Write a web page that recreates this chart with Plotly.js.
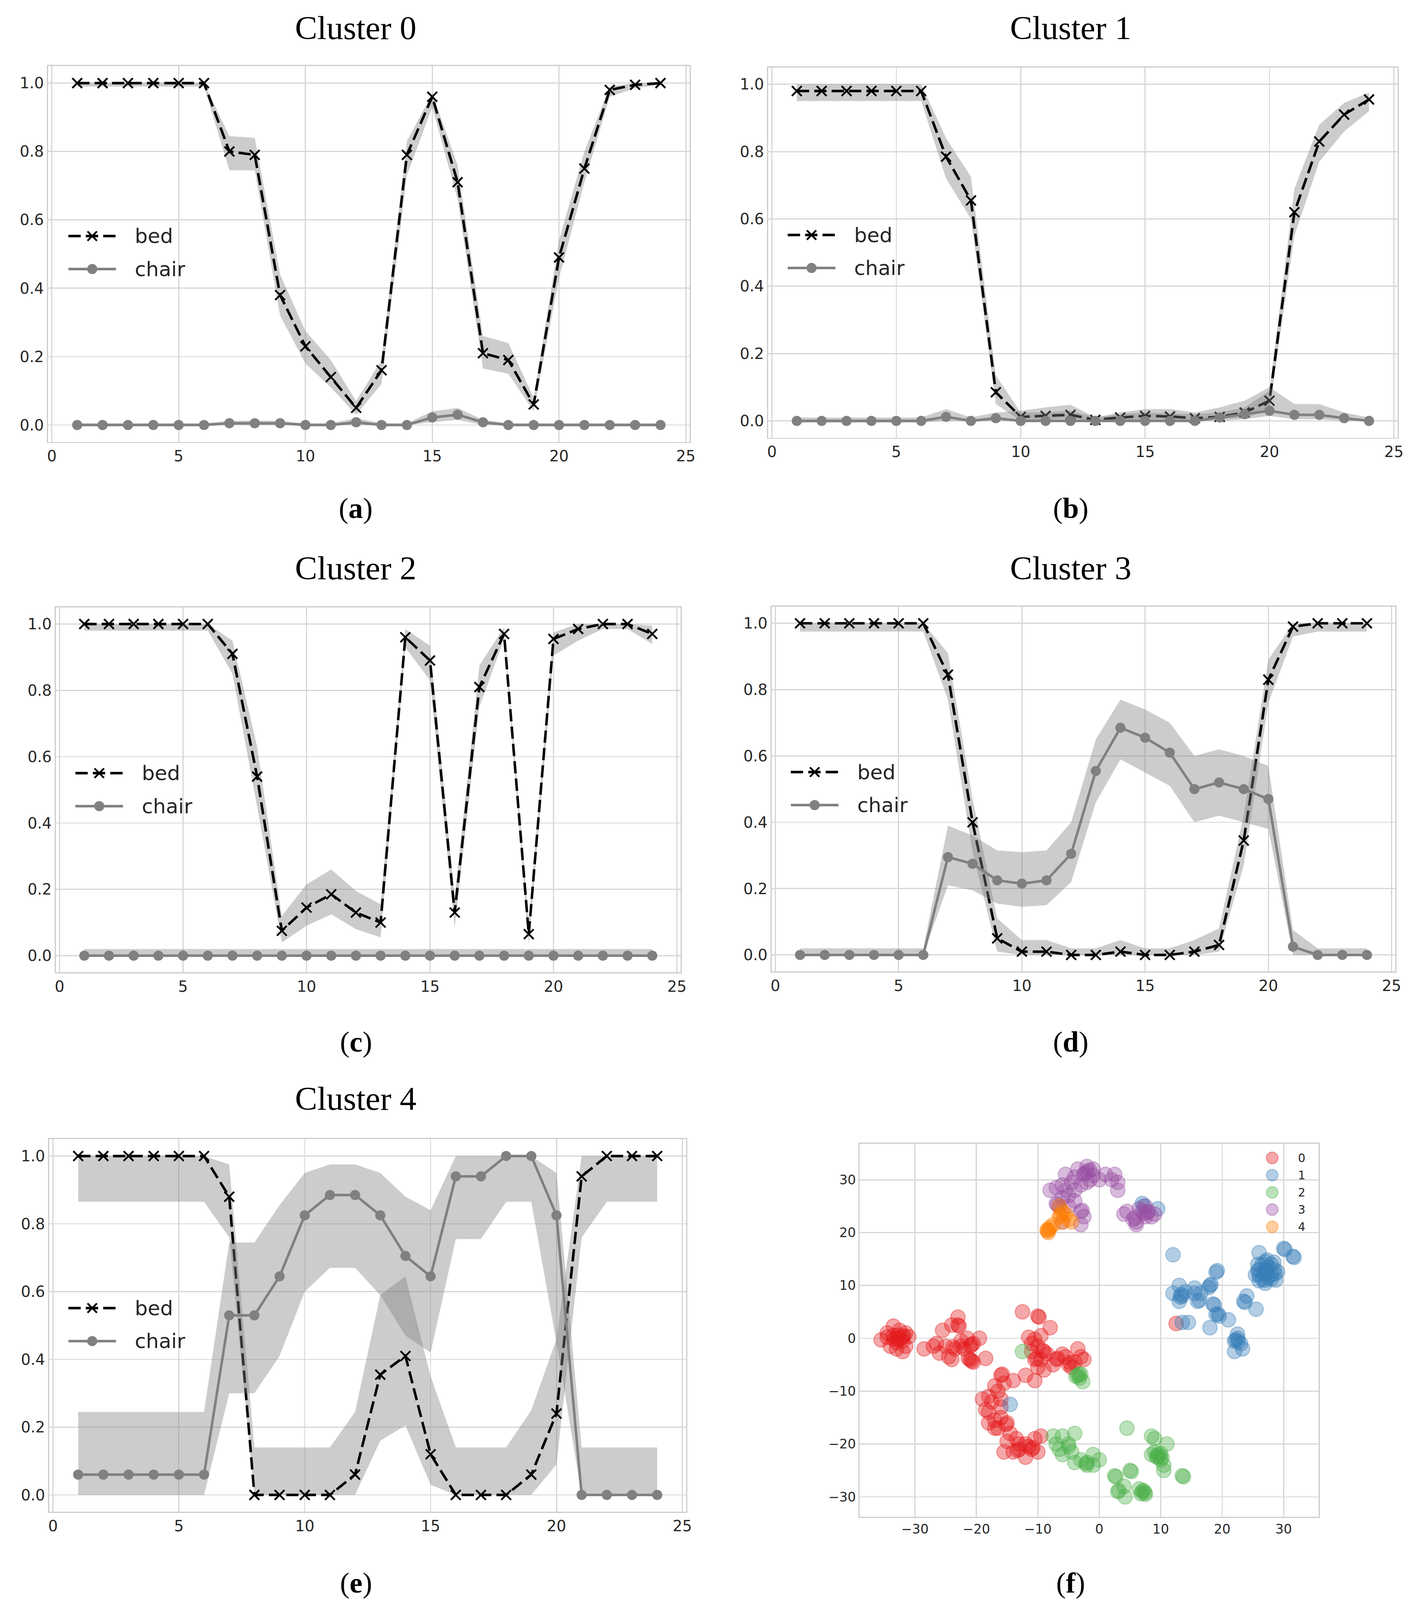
<!DOCTYPE html>
<html>
<head>
<meta charset="utf-8">
<script src="https://cdn.plot.ly/plotly-3.0.1.min.js"></script>
<style>
  html, body { margin: 0; padding: 0; background: #fff; overflow: hidden; }
</style>
</head>
<body>
<div id="chart"></div>
<script>
// x axis: hour of the day
const hours = [1,2,3,4,5,6,7,8,9,10,11,12,13,14,15,16,17,18,19,20,21,22,23,24]

// cluster 0
const c0Bed      = [1,1,1,1,1,1,0.80,0.79,0.38,0.23,0.14,0.05,0.16,0.79,0.96,0.71,0.21,0.19,0.06,0.49,0.75,0.98,0.995,1]
const c0BedLo    = [0.99,0.99,0.99,0.99,0.99,0.99,0.745,0.745,0.32,0.18,0.11,0.03,0.12,0.73,0.93,0.66,0.165,0.15,0.04,0.43,0.71,0.96,0.985,0.995]
const c0BedHi    = [1,1,1,1,1,1,0.845,0.84,0.44,0.275,0.19,0.07,0.19,0.83,0.97,0.76,0.26,0.24,0.08,0.54,0.80,0.99,1,1]
const c0Chair    = [0,0,0,0,0,0,0.005,0.005,0.005,0,0,0.008,0,0,0.022,0.03,0.008,0,0,0,0,0,0,0]
const c0ChairLo  = [0,0,0,0,0,0,0,0,0,0,0,0,0,0,0.008,0.015,0,0,0,0,0,0,0,0]
const c0ChairHi  = [0.005,0.005,0.005,0.005,0.005,0.005,0.012,0.013,0.012,0.005,0.005,0.02,0.005,0.005,0.04,0.05,0.015,0.005,0.005,0.005,0.005,0.005,0.005,0.005]

// cluster 1
const c1Bed      = [0.98,0.98,0.98,0.98,0.98,0.98,0.785,0.655,0.085,0.012,0.015,0.018,0.003,0.01,0.015,0.013,0.008,0.012,0.025,0.06,0.62,0.83,0.91,0.955]
const c1BedLo    = [0.95,0.95,0.95,0.95,0.95,0.95,0.72,0.60,0.05,0,0.005,0.008,0,0.002,0.005,0.005,0,0.005,0.01,0.03,0.55,0.77,0.86,0.92]
const c1BedHi    = [1,1,1,1,1,1,0.84,0.725,0.135,0.025,0.025,0.03,0.01,0.02,0.025,0.022,0.02,0.025,0.04,0.09,0.69,0.88,0.945,0.975]
const c1Chair    = [0,0,0,0,0,0,0.012,0,0.008,0,0,0,0,0,0,0,0,0.01,0.02,0.03,0.018,0.018,0.008,0]
const c1ChairLo  = [-0.005,-0.005,-0.005,-0.005,-0.005,-0.005,0,0,0,0,0,0,0,0,0,0,0,0,0.005,0.015,0.005,0.005,0,0]
const c1ChairHi  = [0.01,0.01,0.01,0.01,0.01,0.01,0.035,0.01,0.025,0.03,0.04,0.048,0.01,0.025,0.035,0.035,0.025,0.04,0.06,0.10,0.05,0.05,0.025,0.01]

// cluster 2
const c2Bed      = [1,1,1,1,1,1,0.91,0.54,0.075,0.145,0.185,0.13,0.10,0.96,0.89,0.13,0.81,0.97,0.065,0.955,0.985,1,1,0.97]
const c2BedLo    = [0.98,0.98,0.98,0.98,0.98,0.98,0.85,0.45,0.04,0.09,0.125,0.08,0.055,0.93,0.83,0.085,0.75,0.955,0.035,0.905,0.95,0.985,0.985,0.94]
const c2BedHi    = [1,1,1,1,1,1,0.95,0.63,0.12,0.215,0.26,0.195,0.155,0.985,0.935,0.175,0.875,0.99,0.10,0.975,1,1,1,0.995]
const c2Chair    = [0,0,0,0,0,0,0,0,0,0,0,0,0,0,0,0,0,0,0,0,0,0,0,0]
const c2ChairLo  = [0,0,0,0,0,0,0,0,0,0,0,0,0,0,0,0,0,0,0,0,0,0,0,0]
const c2ChairHi  = [0.02,0.02,0.02,0.02,0.02,0.02,0.02,0.02,0.02,0.02,0.02,0.02,0.02,0.02,0.02,0.02,0.02,0.02,0.02,0.02,0.02,0.02,0.02,0.02]

// cluster 3
const c3Bed      = [1,1,1,1,1,1,0.845,0.40,0.05,0.01,0.01,0,0,0.01,0,0,0.01,0.03,0.345,0.83,0.99,1,1,1]
const c3BedLo    = [0.975,0.975,0.975,0.975,0.975,0.975,0.77,0.31,0.01,0,0,0,0,0,0,0,0,0.01,0.27,0.76,0.96,0.975,0.975,0.975]
const c3BedHi    = [1,1,1,1,1,1,0.91,0.47,0.11,0.045,0.045,0.02,0.02,0.045,0.02,0.02,0.045,0.08,0.42,0.89,1,1,1,1]
const c3Chair    = [0,0,0,0,0,0,0.295,0.275,0.225,0.215,0.225,0.305,0.555,0.685,0.655,0.61,0.50,0.52,0.50,0.47,0.025,0,0,0]
const c3ChairLo  = [0,0,0,0,0,0,0.21,0.195,0.155,0.145,0.15,0.22,0.46,0.59,0.55,0.51,0.40,0.42,0.40,0.38,0,0,0,0]
const c3ChairHi  = [0.02,0.02,0.02,0.02,0.02,0.02,0.39,0.36,0.315,0.31,0.315,0.40,0.65,0.77,0.74,0.70,0.60,0.62,0.60,0.57,0.075,0.02,0.02,0.02]

// cluster 4
const c4Bed      = [1,1,1,1,1,1,0.88,0,0,0,0,0.06,0.355,0.41,0.12,0,0,0,0.06,0.24,0.94,1,1,1]
const c4BedLo    = [0.865,0.865,0.865,0.865,0.865,0.865,0.76,0,0,0,0,0,0.16,0.205,0.03,0,0,0,0,0.09,0.76,0.865,0.865,0.865]
const c4BedHi    = [1,1,1,1,1,1,0.975,0.14,0.14,0.14,0.14,0.245,0.59,0.645,0.35,0.14,0.14,0.14,0.25,0.46,1,1,1,1]
const c4Chair    = [0.06,0.06,0.06,0.06,0.06,0.06,0.53,0.53,0.645,0.825,0.885,0.885,0.825,0.705,0.645,0.94,0.94,1,1,0.825,0,0,0,0]
const c4ChairLo  = [0,0,0,0,0,0,0.30,0.30,0.41,0.60,0.67,0.67,0.59,0.47,0.42,0.755,0.755,0.865,0.865,0.45,0,0,0,0]
const c4ChairHi  = [0.245,0.245,0.245,0.245,0.245,0.245,0.745,0.745,0.855,0.95,0.975,0.975,0.95,0.88,0.84,1,1,1,1,0.95,0.14,0.14,0.14,0.14]

// t-SNE embedding, one list of [x, y] per cluster (repeated spots are the darker, stacked dots)
const tsne0 = [[-35.5,-0.3],[-34.5,1],[-33.5,2.3],[-32.5,1.5],[-31.5,1],[-31,0.3],[-32,-0.5],[-33,-0.8],[-34,-1.5],[-33,-2],[-32,-2.5],[-31.5,-1.5],[-34.5,0.2],[-32.8,0.6],[-33.4,-0.2],[-31.8,0.5],[-33,0],[-32.5,-0.2],[-33.5,0.5],[-32,0.3],
  [-28.5,-2],[-27,-1.5],[-26,-2.8],[-25,-1.5],[-25.5,1.5],[-24,2.5],[-23,4],[-23,2.5],[-22.8,2.3],[-22.5,-0.5],[-23.5,-2],[-23.8,-1.6],[-24,-4],[-22,-2],[-21,-1.5],[-20.8,-1.2],[-21,-4],[-20.8,-4.3],[-20.5,-4.5],[-21.3,-3.8],[-21.5,0],[-19.5,0],[-18.5,-3.8],[-26.5,-1],[-24.5,-3.5],[-22.5,-1.5],[-20.5,-1],
  [-12.5,5],[-10,4.2],[-9.8,4],[-8,2],[-11.5,0.2],[-10.5,-0.2],[-9.5,0.5],[-10,-1.5],[-11,-2.5],[-9,-2.5],[-9.2,-2.3],[-10.5,-4],[-10.2,-3.8],[-9.5,-4],[-7,-4],[-6.8,-3.8],[-5.5,-3.5],[-5,-5],[-4.8,-4.6],[-4,-4.5],[-3.5,-2],[-2.5,-4],[-9,-6],[-12,-7],[-10.5,-8],[-4.5,-5.5],[-6,-3],[-11,-1],[-8.5,-3],[-10,-5.5],[-7.5,-5],[-3,-3.5],
  [-16,-7],[-15.8,-6.8],[-14,-8],[-15.5,-8.5],[-17,-9],[-18,-11],[-16.5,-10],[-17.5,-12],[-16,-13],[-18,-14],[-17,-15.5],[-18,-16],[-16.5,-17],[-15,-16],[-15.2,-16.3],[-14.5,-18],[-13.5,-19],[-15,-19.5],[-13,-21],[-13.3,-21.2],[-14,-21.5],[-12,-22.5],[-11,-21],[-10.8,-20.7],[-10,-21.5],[-10.5,-19],[-9.5,-18.5],[-12,-20],[-15.5,-21.5],[-16,-15],[-18.5,-13.5],[-17,-17],[-11.5,-20.5],[-13,-20],[-19,-11.5],[-16,-11.5],
  [12.5,2.8]]
const tsne1 = [[26,12],[27,13],[28,12],[27.5,11.5],[26.5,14],[28,14],[27,11],[26,13],[28.5,13],[27,12.5],[27.2,12.8],[26.8,12.2],[27.5,13.5],[26.5,11.2],[28,11.2],[27,14.5],[25.8,12.8],[28.6,12.2],[25.4,12],[29,12.6],[27,10.4],[27.3,14.8],[25.8,14],[28.4,14.4],[26,10.9],[28.7,11]
  ,[30,17],[30.2,16.8],[31.5,15.5],[31.7,15.3],[26,16.2],[24,8],[23.5,7],[23.7,6.8],[25.5,5.5],[19,12.5],[19.2,12.8],[18,10],[17.8,9.6],[18.2,10.2],[16,7],[16.3,7.2],[15.5,8.5],[18.5,6.5],[18.7,6.3],[19,4.5],[19.5,4.2],[19.3,4.6],[21,3.5],[18,2],[22,-0.5],[22.5,0],[23,-1],[22,-2.5],[22.5,0.8],[23.3,-2],[22.2,-0.3],[22.6,-0.6],
  [12,15.8],[12,8.5],[13,10],[13.5,8],[13.3,8.3],[13,7],[13.5,3],[14.5,3],[15.5,9.5],[14,8.8],[13.2,7.8],[16.5,8.5],
  [7,25.5],[7.2,25],[9.5,24.5],[-14.5,-12.5]]
const tsne2 = [[-12.5,-2.5],[-3.5,-7],[-3.3,-6.8],[-3.2,-7.5],[-2.7,-8.2],[-3,-6.8],[-3.8,-7.2],
  [-7.5,-18.5],[-6,-18.5],[-4,-18],[-5,-20],[-6.5,-21],[-4.5,-21.5],[-3,-23],[-4,-23.5],[-2,-23.5],[-2.2,-23.7],[-1,-22],[-1,-24],[0,-23],[-2,-24],[-6,-22],[-5,-20.5],[-7,-20],
  [4.5,-17],[5,-25],[5.2,-25.2],[2.5,-26],[2.7,-26.2],[3,-29],[3.2,-28.8],[4,-28],[4.2,-30],[7,-29],[7.5,-29.5],[6.5,-28.5],[7.2,-28.8],[7.4,-29.2],[6.8,-29.4],[9.5,-22],[9,-21.5],[10,-23],[9,-19],[8.5,-18.5],[11,-20],[10.5,-24],[10.5,-25],[13.5,-26],[13.7,-26.2],[8.5,-22],[9.5,-22.5],[10,-21.8],[9.8,-22.2],[9.3,-22.4],[10.2,-22.6]]
const tsne3 = [[-8,28],[-7,28.5],[-6,29],[-5.5,31],[-4,30.5],[-3.5,32],[-2.5,31],[-2,32.5],[-1,32],[-1.5,30],[0,30],[1,31],[2,30],[2.5,31],[3,29.5],[3,28],[-3,29],[-4,28],[-5,27],[-6,26.5],[-7,25.5],[-6.8,25.3],[-6.5,24.8],[-5,25],[-4,26],[-3,24],[-2.8,24.2],[-2.5,23],[-3,21.5],[-6,22],[-1,30.8],[-2,29.5],[-4.5,29.5],[-5.5,28],[-2,31.5],[-1.6,31.8],[-2.4,31.2],
  [4,23.5],[4.5,24],[5.5,22.5],[6,21.5],[6,22],[7,24],[7.5,23],[7.3,23.6],[8,24],[8.5,23],[9,23.5],[6.5,24.5],[7.5,25],[5.8,22.8],[7.8,23.8]]
const tsne4 = [[-8.5,20.5],[-8.3,20],[-8,21],[-7.5,21.5],[-6,22],[-6.5,23],[-6.3,23.3],[-5.5,23.5],[-5,22.5],[-6,24],[-6.5,25],[-4.5,22],[-8.4,20.3],[-8.2,20.6]]

const clusterNames = ['0','1','2','3','4']
const clusterRgb = ['228,26,28','55,126,184','77,175,74','152,78,163','255,127,0']

//reference geometry is in pixels of a 3624x4412 page, the plot is fitted to the real viewport
const RW = 3624
const RH = 4412
const W = window.innerWidth || RW
const H = window.innerHeight || RH
const k = Math.min(W / RW, H / RH)
const px = v => v / RW
const py = v => 1 - v / RH
const sz = v => v * k

const sansFont = "'DejaVu Sans', sans-serif"
const serifFont = "'Liberation Serif', 'DejaVu Serif', serif"
const textColor = '#262626'
const bandColor = 'rgba(128,128,128,0.4)'
const chairColor = '#808080'
const bedDash = `${sz(34)}px,${sz(14)}px`

//box = [left, right, top, bottom] of the plot area
const panels = [
  { box: [123, 1765, 182, 1219], title: 'Cluster 0', tag: 'a', tx: 911, ty: 76, tagY: 1401, leg: [175, 651] },
  { box: [1966, 3577, 186, 1207], title: 'Cluster 1', tag: 'b', tx: 2740, ty: 76, tagY: 1401, leg: [2016, 648] },
  { box: [143, 1742, 1675, 2681], title: 'Cluster 2', tag: 'c', tx: 911, ty: 1566, tagY: 2873, leg: [193, 2132] },
  { box: [1975, 3571, 1673, 2679], title: 'Cluster 3', tag: 'd', tx: 2740, ty: 1566, tagY: 2873, leg: [2024, 2129] },
  { box: [126, 1756, 3141, 4169], title: 'Cluster 4', tag: 'e', tx: 911, ty: 3029, tagY: 4365, leg: [175, 3607] },
]
const scatterBox = [2200, 3375, 3154, 4183]

const bedSeries = [c0Bed, c1Bed, c2Bed, c3Bed, c4Bed]
const bedLower = [c0BedLo, c1BedLo, c2BedLo, c3BedLo, c4BedLo]
const bedUpper = [c0BedHi, c1BedHi, c2BedHi, c3BedHi, c4BedHi]
const chairSeries = [c0Chair, c1Chair, c2Chair, c3Chair, c4Chair]
const chairLower = [c0ChairLo, c1ChairLo, c2ChairLo, c3ChairLo, c4ChairLo]
const chairUpper = [c0ChairHi, c1ChairHi, c2ChairHi, c3ChairHi, c4ChairHi]
const tsne = [tsne0, tsne1, tsne2, tsne3, tsne4]

function axisStyle(fontSize, standoff) {
  return {
    showgrid: true,
    gridcolor: '#d6d6d6',
    gridwidth: sz(3),
    zeroline: false,
    showline: true,
    mirror: true,
    linecolor: '#cccccc',
    linewidth: sz(3),
    ticks: '',
    ticklabelstandoff: sz(standoff),
    tickfont: { family: sansFont, size: sz(fontSize), color: textColor },
  }
}

let traces = []
let layout = {
  width: W,
  height: H,
  margin: { l: 0, r: 0, t: 0, b: 0 },
  paper_bgcolor: 'white',
  plot_bgcolor: 'white',
  showlegend: false,
  shapes: [],
  annotations: [],
}

function band(lo, hi, xa, ya) {
  traces.push({ x: hours, y: lo, xaxis: xa, yaxis: ya, mode: 'lines', line: { width: 0 }, hoverinfo: 'skip' })
  traces.push({ x: hours, y: hi, xaxis: xa, yaxis: ya, mode: 'lines', line: { width: 0 }, fill: 'tonexty', fillcolor: bandColor, hoverinfo: 'skip' })
}

function note(text, x, y, font, anchor) {
  layout.annotations.push({ text: text, xref: 'paper', yref: 'paper', x: x, y: y, xanchor: anchor || 'center', yanchor: 'middle', showarrow: false, font: font })
}

panels.forEach((p, i) => {
  let s = i == 0 ? '' : String(i + 1)
  let xa = 'x' + s
  let ya = 'y' + s
  band(bedLower[i], bedUpper[i], xa, ya)
  traces.push({
    x: hours, y: bedSeries[i], xaxis: xa, yaxis: ya, name: 'bed',
    mode: 'lines+markers',
    line: { color: 'black', width: sz(7), dash: bedDash },
    marker: { symbol: 'x-thin', size: sz(27), color: 'black', line: { width: sz(5), color: 'black' } },
  })
  band(chairLower[i], chairUpper[i], xa, ya)
  traces.push({
    x: hours, y: chairSeries[i], xaxis: xa, yaxis: ya, name: 'chair',
    mode: 'lines+markers',
    line: { color: chairColor, width: sz(7) },
    marker: { symbol: 'circle', size: sz(28), color: chairColor },
  })

  let [l, r, t, b] = p.box
  layout['xaxis' + s] = Object.assign(axisStyle(42, 4), {
    domain: [px(l), px(r)], anchor: ya, range: [-0.15, 25.15], tickvals: [0, 5, 10, 15, 20, 25],
  })
  layout['yaxis' + s] = Object.assign(axisStyle(42, 12), {
    domain: [py(b), py(t)], anchor: xa, range: [-0.05, 1.05], tickvals: [0, 0.2, 0.4, 0.6, 0.8, 1.0], tickformat: '.1f',
  })

  //legend drawn by hand so the sample line and symbols keep matplotlib proportions
  let [lx, ly] = p.leg
  let rowGap = 91
  layout.shapes.push(
    { type: 'line', xref: 'paper', yref: 'paper', x0: px(lx), x1: px(lx + 122), y0: py(ly), y1: py(ly), line: { color: 'black', width: sz(7), dash: bedDash } },
    { type: 'line', xref: 'paper', yref: 'paper', xsizemode: 'pixel', ysizemode: 'pixel', xanchor: px(lx + 61), yanchor: py(ly), x0: sz(-13), x1: sz(13), y0: sz(-13), y1: sz(13), line: { color: 'black', width: sz(5) } },
    { type: 'line', xref: 'paper', yref: 'paper', xsizemode: 'pixel', ysizemode: 'pixel', xanchor: px(lx + 61), yanchor: py(ly), x0: sz(-13), x1: sz(13), y0: sz(13), y1: sz(-13), line: { color: 'black', width: sz(5) } },
    { type: 'line', xref: 'paper', yref: 'paper', x0: px(lx), x1: px(lx + 122), y0: py(ly + rowGap), y1: py(ly + rowGap), line: { color: chairColor, width: sz(7) } },
    { type: 'circle', xref: 'paper', yref: 'paper', xsizemode: 'pixel', ysizemode: 'pixel', xanchor: px(lx + 61), yanchor: py(ly + rowGap), x0: sz(-14), x1: sz(14), y0: sz(-14), y1: sz(14), fillcolor: chairColor, line: { width: 0 } }
  )
  note('bed', px(lx + 168), py(ly), { family: sansFont, size: sz(56), color: textColor }, 'left')
  note('chair', px(lx + 168), py(ly + rowGap), { family: sansFont, size: sz(56), color: textColor }, 'left')
  note(p.title, px(p.tx), py(p.ty), { family: serifFont, size: sz(92), color: 'black' })
  note('(<b>' + p.tag + '</b>)', px(p.tx), py(p.tagY), { family: serifFont, size: sz(80), color: 'black' })
})

// (f) t-SNE scatter
tsne.forEach((pts, c) => {
  let fill = `rgba(${clusterRgb[c]},0.38)`
  traces.push({
    x: pts.map(d => d[0]), y: pts.map(d => d[1]), xaxis: 'x6', yaxis: 'y6', name: clusterNames[c],
    mode: 'markers',
    marker: { size: sz(40), color: fill, line: { width: sz(3), color: fill } },
  })
  let ly = 3193 + 47.5 * c
  layout.shapes.push({ type: 'circle', xref: 'paper', yref: 'paper', xsizemode: 'pixel', ysizemode: 'pixel', xanchor: px(3256), yanchor: py(ly), x0: sz(-16), x1: sz(16), y0: sz(-16), y1: sz(16), fillcolor: fill, line: { width: sz(3), color: fill } })
  note(clusterNames[c], px(3320), py(ly), { family: sansFont, size: sz(32), color: textColor }, 'left')
})
layout.xaxis6 = Object.assign(axisStyle(36, 4), {
  domain: [px(scatterBox[0]), px(scatterBox[1])], anchor: 'y6', range: [-39, 35.7], tickvals: [-30, -20, -10, 0, 10, 20, 30],
})
layout.yaxis6 = Object.assign(axisStyle(36, 12), {
  domain: [py(scatterBox[3]), py(scatterBox[2])], anchor: 'x6', range: [-33.8, 36.8], tickvals: [-30, -20, -10, 0, 10, 20, 30],
})
note('(<b>f</b>)', px(2740), py(4365), { family: serifFont, size: sz(80), color: 'black' })

let chartDiv = document.getElementById('chart')
chartDiv.style.width = W + 'px'
chartDiv.style.height = H + 'px'
Plotly.newPlot(chartDiv, traces, layout, { displaylogo: false, staticPlot: true })
</script>
</body>
</html>
